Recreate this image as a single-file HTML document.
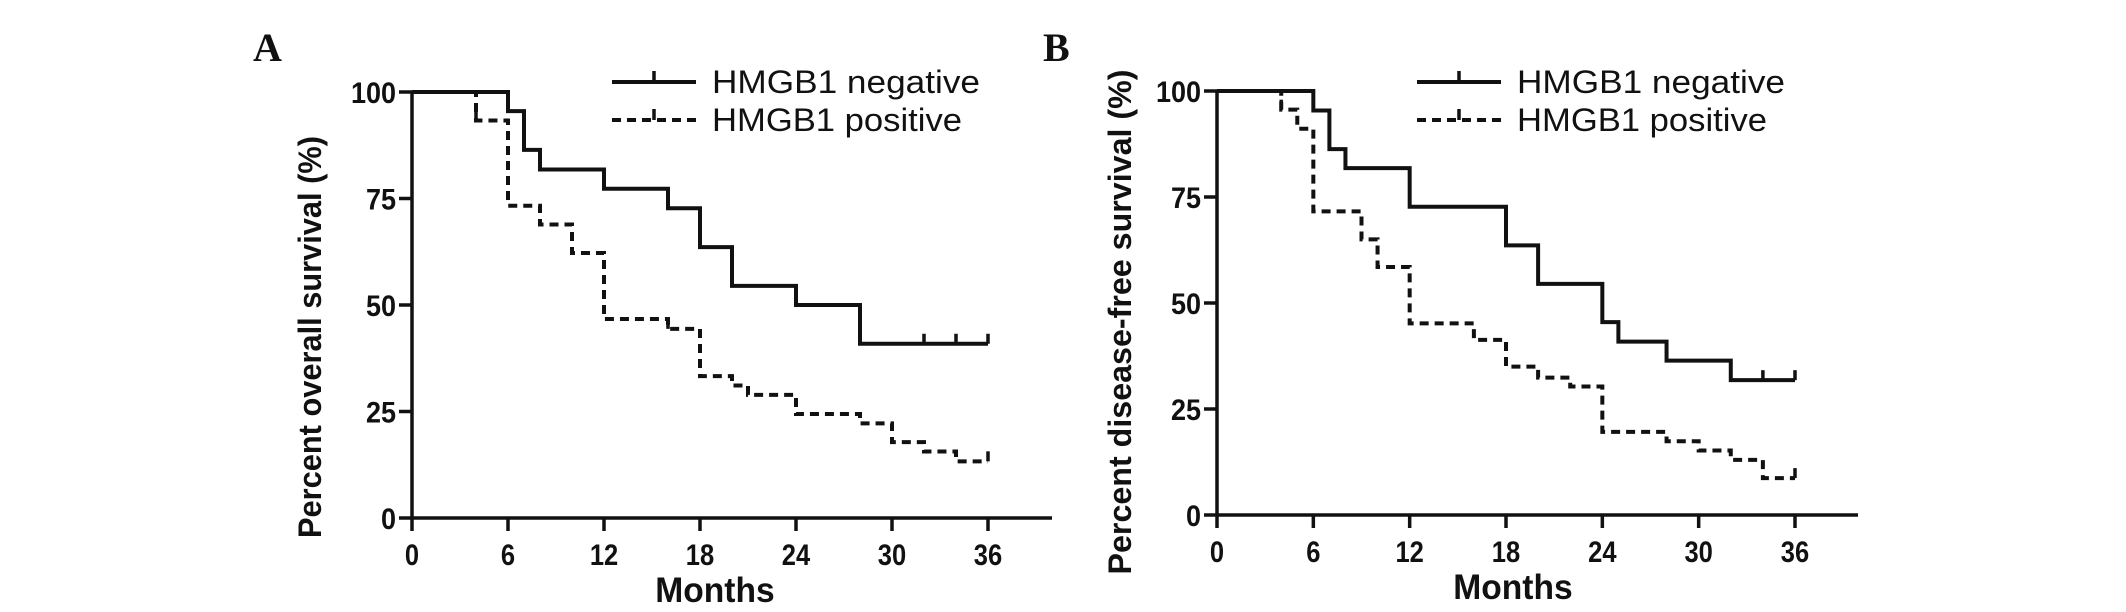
<!DOCTYPE html>
<html><head><meta charset="utf-8">
<style>
html,body{margin:0;padding:0;background:#fff;}
svg{display:block;}
text{font-family:"Liberation Sans",Arial,sans-serif;fill:#111;}
</style></head>
<body>
<svg id="fig" width="2126" height="612" viewBox="0 0 2126 612" xmlns="http://www.w3.org/2000/svg"></svg>
<script>
// ---- data ----
const xTicks = [0, 6, 12, 18, 24, 30, 36];
const yTicks = [0, 25, 50, 75, 100];
const legendLabels = ["HMGB1 negative", "HMGB1 positive"];
// Panel A (overall survival)
const aNegTimes = [0, 6, 7, 8, 12, 16, 18, 20, 24, 28];
const aNegSurv  = [100, 95.5, 86.4, 81.8, 77.3, 72.7, 63.6, 54.5, 50, 40.9];
const aNegCensor = [32, 34, 36];
const aPosTimes = [0, 4, 6, 8, 10, 12, 16, 18, 20, 21, 24, 28, 30, 32, 34];
const aPosSurv  = [100, 93.3, 73.3, 68.9, 62.2, 46.7, 44.4, 33.3, 31.1, 28.9, 24.4, 22.2, 17.8, 15.6, 13.3];
const aPosCensor = [4, 16, 36];
// Panel B (disease-free survival)
const bNegTimes = [0, 6, 7, 8, 12, 18, 20, 24, 25, 28, 32];
const bNegSurv  = [100, 95.4, 86.3, 81.8, 72.7, 63.6, 54.5, 45.5, 40.9, 36.4, 31.8];
const bNegCensor = [34, 36];
const bPosTimes = [0, 4, 5, 6, 9, 10, 12, 16, 18, 20, 22, 24, 28, 30, 32, 34];
const bPosSurv  = [100, 95.6, 91.1, 71.6, 65.0, 58.5, 45.2, 41.3, 35.0, 32.4, 30.3, 19.6, 17.4, 15.2, 13.0, 8.7];
const bPosCensor = [4, 36];

const NS = "http://www.w3.org/2000/svg";
const svg = document.getElementById("fig");
function mk(tag, attrs, parent) {
  const e = document.createElementNS(NS, tag);
  for (const k in attrs) e.setAttribute(k, attrs[k]);
  (parent || svg).appendChild(e);
  return e;
}

function panel(cfg) {
  const g = mk("g", {});
  
  
  const X = m => cfg.x0 + (m / 36) * (cfg.x36 - cfg.x0);
  const Y = v => cfg.y0 + (v / 100) * (cfg.y100 - cfg.y0);

  // panel letter
  const L = mk("text", {x: cfg.letterX, y: 61, "font-size": 40, "font-weight": "bold", style: "font-family:'Liberation Serif',serif"}, g);
  L.textContent = cfg.letter;
  
  

  // axes
  const ax = mk("line", {x1: cfg.x0, y1: cfg.y0, x2: cfg.xEnd, y2: cfg.y0, stroke: "#111", "stroke-width": 3.5}, g);
  
  
  const ay = mk("line", {x1: cfg.x0, y1: cfg.y0 + 1.5, x2: cfg.x0, y2: Y(100) - 1, stroke: "#111", "stroke-width": 3.5}, g);
  
  

  xTicks.forEach(t => {
    const tl = mk("line", {x1: X(t), y1: cfg.y0, x2: X(t), y2: cfg.y0 + 13, stroke: "#111", "stroke-width": 3.5}, g);
    
    
    const tx = mk("text", {x: X(t), y: cfg.y0 + 47, "font-size": 30, "font-weight": "bold", "text-anchor": "middle", transform: `translate(${X(t)},0) scale(0.85,1) translate(${-X(t)},0)`}, g);
    tx.textContent = t;
    
    
  });
  yTicks.forEach(t => {
    const tl = mk("line", {x1: cfg.x0 - 13, y1: Y(t), x2: cfg.x0, y2: Y(t), stroke: "#111", "stroke-width": 3.5}, g);
    
    
    const rx = cfg.x0 - 16;
    const tx = mk("text", {x: rx, y: Y(t) + 11, "font-size": 30, "font-weight": "bold", "text-anchor": "end", transform: `translate(${rx},0) scale(0.9,1) translate(${-rx},0)`}, g);
    tx.textContent = t;
    
    
  });

  // axis titles
  const mx = X(18) + cfg.monthsShift;
  const xt = mk("text", {x: mx, y: cfg.y0 + 84, "font-size": 35, "font-weight": "bold", "text-anchor": "middle", transform: `translate(${mx},0) scale(0.96,1) translate(${-mx},0)`}, g);
  xt.textContent = "Months";
  
  
  const yt = mk("text", {x: 0, y: 0, "font-size": 32, "font-weight": "bold", "text-anchor": "middle", textLength: cfg.yTitleLen, lengthAdjust: "spacingAndGlyphs", transform: `translate(${cfg.yTitleX},${cfg.yTitleY}) rotate(-90)`}, g);
  yt.textContent = cfg.yTitle;
  
  

  // curves
  function curve(times, surv, censor, dashed, name) {
    let d = `M${X(0)},${Y(surv[0])}`;
    for (let i = 1; i < times.length; i++) {
      d += ` H${X(times[i])} V${Y(surv[i])}`;
    }
    d += ` H${X(36)}`;
    const p = mk("path", {d: d, fill: "none", stroke: "#111", "stroke-width": 4, "stroke-dasharray": dashed ? "9 6" : "none", "stroke-linejoin": "miter"}, g);
    
    
    censor.forEach(c => {
      let s = surv[0];
      for (let i = 0; i < times.length; i++) if (times[i] <= c) s = surv[i];
      const m = mk("line", {x1: X(c), y1: Y(s), x2: X(c), y2: Y(s) - 10, stroke: "#111", "stroke-width": 3.5}, g);
      
      
    });
  }
  curve(cfg.negT, cfg.negS, cfg.negC, false, 'hmgb1-negative-curve');
  curve(cfg.posT, cfg.posS, cfg.posC, true, 'hmgb1-positive-curve');

  // legend
  const lx = cfg.x0 + 200;
  [0, 1].forEach(i => {
    const y = 82 + i * 38;
    const ll = mk("line", {x1: lx, y1: y, x2: lx + 84, y2: y, stroke: "#111", "stroke-width": 4, "stroke-dasharray": i ? "9 6" : "none"}, g);
    
    
    const lm = mk("line", {x1: lx + 42, y1: y, x2: lx + 42, y2: y - 11, stroke: "#111", "stroke-width": 3.5}, g);
    
    
    const lt = mk("text", {x: lx + 100, y: y + 11, "font-size": 32, textLength: i ? 250 : 268, lengthAdjust: "spacingAndGlyphs"}, g);
    lt.textContent = legendLabels[i];
    
    
  });
}

panel({name: "panel-a", letter: "A", letterX: 253, x0: 412, x36: 988, xEnd: 1052, y0: 518, y100: 92,
  yTitle: "Percent overall survival (%)", yTitleX: 321, yTitleY: 337, yTitleLen: 402, monthsShift: 15,
  negT: aNegTimes, negS: aNegSurv, negC: aNegCensor, posT: aPosTimes, posS: aPosSurv, posC: aPosCensor});
panel({name: "panel-b", letter: "B", letterX: 1043, x0: 1217, x36: 1795, xEnd: 1858, y0: 515, y100: 91,
  yTitle: "Percent disease-free survival (%)", yTitleX: 1131, yTitleY: 322, yTitleLen: 505, monthsShift: 7,
  negT: bNegTimes, negS: bNegSurv, negC: bNegCensor, posT: bPosTimes, posS: bPosSurv, posC: bPosCensor});
</script>
</body></html>
